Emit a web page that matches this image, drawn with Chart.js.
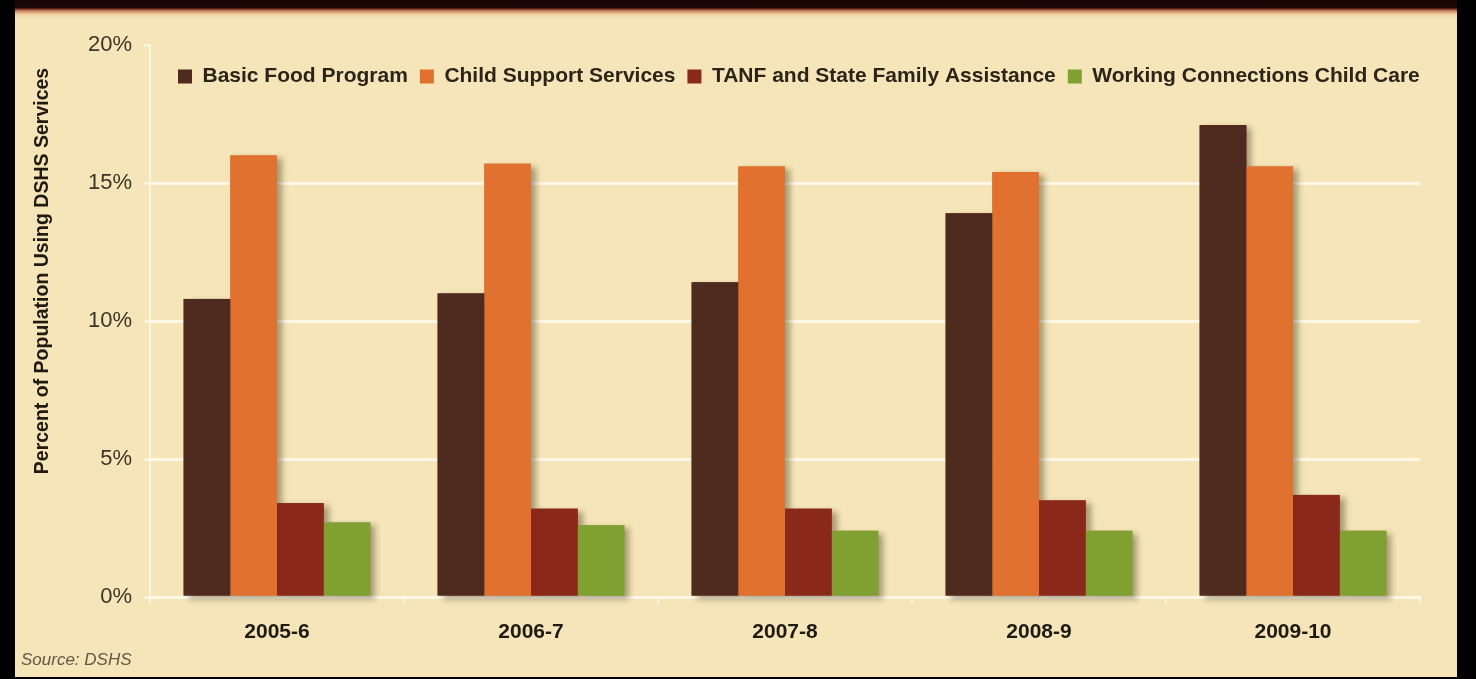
<!DOCTYPE html>
<html>
<head>
<meta charset="utf-8">
<title>Percent of Population Using DSHS Services</title>
<script src="https://cdn.jsdelivr.net/npm/chart.js@4.4.1/dist/chart.umd.min.js"></script>
<style>
  html, body { margin: 0; padding: 0; background: #000; width: 1476px; height: 679px; overflow: hidden; }
  .panel {
    position: absolute; left: 15px; top: 0; width: 1442px; height: 677px;
    background: linear-gradient(to bottom, #140604 0px, #1e0805 8px, #7e3320 9px, #c98262 11px, #eecda0 14px, #f5e5b8 18px, #f5e5b8 100%);
  }
  #chartWrap { position: absolute; left: 0; top: 0; width: 1476px; height: 679px; }
  .source {
    position: absolute; left: 21px; top: 650px;
    font: italic 17px "Liberation Sans", Arial, sans-serif; color: #5f5848;
  }
</style>
</head>
<body>
<div class="panel"></div>
<div id="chartWrap"><canvas id="servicesChart" width="1476" height="679"></canvas></div>
<div class="source">Source: DSHS</div>
<script>
// fiscal years on the x axis
const years = ['2005-6', '2006-7', '2007-8', '2008-9', '2009-10'];

// percent of population using each service
const basicFood    = [10.8, 11.0, 11.4, 13.9, 17.1];
const childSupport = [16.0, 15.7, 15.6, 15.4, 15.6];
const tanf         = [3.4, 3.2, 3.2, 3.5, 3.7];
const childCare    = [2.7, 2.6, 2.4, 2.4, 2.4];

const seriesNames = [
  'Basic Food Program',
  'Child Support Services',
  'TANF and State Family Assistance',
  'Working Connections Child Care'
];
const seriesColors = ['#4e2a1f', '#e0712f', '#8a2819', '#80a032'];

const yAxisTitle = 'Percent of Population Using DSHS Services';
const gridColor = '#fff8e6';

// soft drop shadow behind every bar, painted before the bars themselves
const barShadow = {
  id: 'barShadow',
  beforeDatasetsDraw(chart) {
    const ctx = chart.ctx;
    ctx.save();
    ctx.shadowColor = 'rgba(70, 60, 30, 0.45)';
    ctx.shadowBlur = 6;
    ctx.shadowOffsetX = 5;
    ctx.shadowOffsetY = 3;
    chart.data.datasets.forEach((ds, i) => {
      const meta = chart.getDatasetMeta(i);
      ctx.fillStyle = ds.backgroundColor;
      meta.data.forEach(bar => {
        const p = bar.getProps(['x', 'y', 'base', 'width'], true);
        ctx.fillRect(p.x - p.width / 2, p.y, p.width, p.base - p.y);
      });
    });
    ctx.restore();
  }
};

// the legend sits inside the plot, just under the 20% line
const legendInPlot = {
  id: 'legendInPlot',
  afterLayout(chart) {
    const lg = chart.legend;
    if (!lg) return;
    lg.left = 166;
    lg.right = 1470;
    lg.top = 54;
    lg.bottom = 104;
    lg.width = lg.right - lg.left;
    lg.height = lg.bottom - lg.top;
  }
};

// rotated y axis title, placed along the upper part of the axis
const yTitle = {
  id: 'yTitle',
  afterDraw(chart) {
    const ctx = chart.ctx;
    ctx.save();
    ctx.translate(43, 271);
    ctx.rotate(-Math.PI / 2);
    ctx.font = 'bold 19.5px "Liberation Sans", Arial, sans-serif';
    ctx.fillStyle = '#1f1a12';
    ctx.textAlign = 'center';
    ctx.textBaseline = 'middle';
    ctx.fillText(yAxisTitle, 0, 0);
    ctx.restore();
  }
};

const seriesValues = [basicFood, childSupport, tanf, childCare];

const ctx = document.getElementById('servicesChart').getContext('2d');
const servicesChart = new Chart(ctx, {
  type: 'bar',
  data: {
    labels: years,
    datasets: seriesValues.map((vals, i) => ({
      label: seriesNames[i],
      data: vals,
      backgroundColor: seriesColors[i],
      borderWidth: 0,
      categoryPercentage: 0.735,
      barPercentage: 1.0
    }))
  },
  options: {
    responsive: false,
    animation: false,
    layout: {
      padding: { top: 44, right: 56, bottom: 0, left: 0 }
    },
    plugins: {
      legend: {
        position: 'top',
        align: 'start',
        maxHeight: 1,
        labels: {
          boxWidth: 14,
          boxHeight: 14,
          padding: 12,
          color: '#2b2419',
          font: { family: '"Liberation Sans", Arial, sans-serif', size: 21, weight: 'bold' }
        }
      },
      tooltip: { enabled: false }
    },
    scales: {
      x: {
        afterFit(scale) { scale.height = 82; },
        grid: {
          display: true,
          drawOnChartArea: false,
          offset: true,
          tickLength: 6,
          tickColor: gridColor,
          lineWidth: 2
        },
        border: { display: true, color: gridColor, width: 3 },
        ticks: {
          padding: 17,
          color: '#1e1a14',
          font: { family: '"Liberation Sans", Arial, sans-serif', size: 21, weight: 'bold' }
        }
      },
      y: {
        min: 0,
        max: 20,
        afterFit(scale) { scale.width = 150; },
        grid: {
          color: c => (c.tick && c.tick.value === 20 ? 'rgba(0,0,0,0)' : gridColor),
          lineWidth: 3,
          tickLength: 6,
          tickColor: gridColor,
          tickWidth: 2
        },
        border: { display: true, color: gridColor, width: 2 },
        ticks: {
          stepSize: 5,
          padding: 12,
          color: '#3a3528',
          font: { family: '"Liberation Sans", Arial, sans-serif', size: 22 },
          callback: v => v + '%'
        }
      }
    }
  },
  plugins: [barShadow, legendInPlot, yTitle]
});
</script>
</body>
</html>
